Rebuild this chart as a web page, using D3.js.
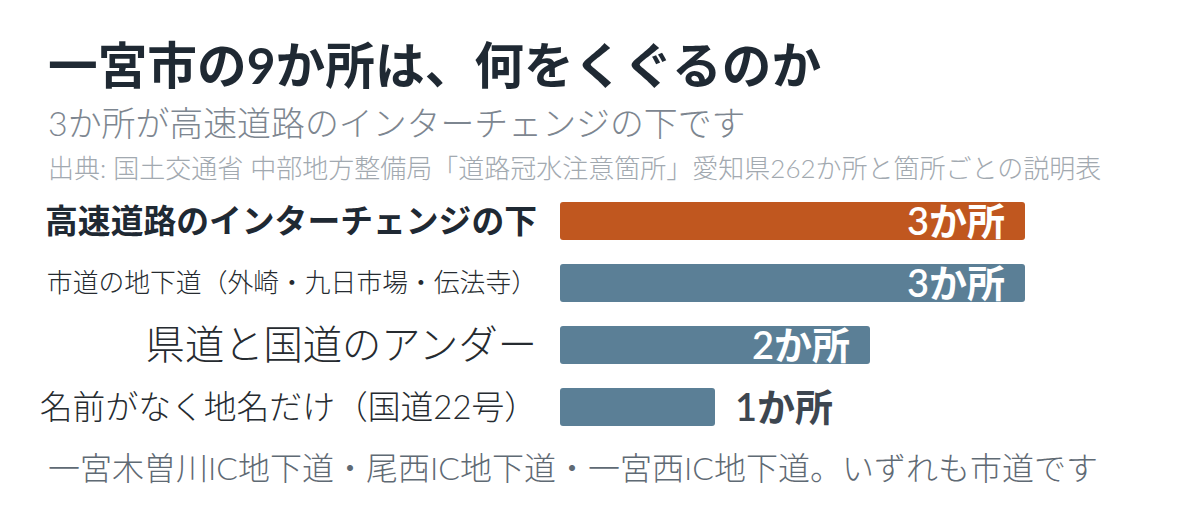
<!DOCTYPE html>
<html>
<head>
<meta charset="utf-8">
<script src="https://cdn.jsdelivr.net/npm/d3@7"></script>
<style>
  html, body { margin: 0; padding: 0; background: #fff; }
  svg { display: block; font-family: Lato, 'Noto Sans CJK JP', sans-serif; }
</style>
</head>
<body>
<div class="chart"></div>
<script>
    // Data
    var categories = [
        '高速道路のインターチェンジの下',
        '市道の地下道（外崎・九日市場・伝法寺）',
        '県道と国道のアンダー',
        '名前がなく地名だけ（国道22号）'
    ];
    var counts = [3, 3, 2, 1];
    var unit = 'か所';
    var titleText = '一宮市の9か所は、何をくぐるのか';
    var subtitleText = '3か所が高速道路のインターチェンジの下です';
    var sourceText = '出典: 国土交通省 中部地方整備局「道路冠水注意箇所」愛知県262か所と箇所ごとの説明表';
    var noteText = '一宮木曽川IC地下道・尾西IC地下道・一宮西IC地下道。いずれも市道です';

    // Layout
    var w = 1200;
    var h = 514;
    var left = 48;
    var barLeft = 560;
    var barRight = 1025;
    var barTop = 202;
    var step = 62;
    var barH = 38;
    var labelRight = 537;
    var labelSizes = [32.8, 25.8, 39.3, 32.8];   // each label sized to its own width
    var labelWeights = [700, 300, 300, 300];
    var orange = '#c0571f';
    var slate = '#5b7f96';

    var svg = d3.select('.chart')
        .append('svg')
            .attr('width', w)
            .attr('height', h);

    var x = d3.scaleLinear()
        .domain([0, d3.max(counts)])
        .range([barLeft, barRight]);

    var y = d3.scaleBand()
        .domain(categories)
        .range([barTop, barTop + step * (categories.length - 1) + barH])
        .paddingInner((step - barH) / step)
        .paddingOuter(0);

    // Titles
    svg.append('text')
        .text(titleText)
        .attr('x', left)
        .attr('y', 84)
        .attr('font-size', 49.7)
        .attr('font-weight', 700)
        .attr('fill', '#1f2933');

    svg.append('text')
        .text(subtitleText)
        .attr('x', left)
        .attr('y', 136)
        .attr('font-size', 33.9)
        .attr('font-weight', 300)
        .attr('fill', '#7d8690');

    svg.append('text')
        .text(sourceText)
        .attr('x', left)
        .attr('y', 178)
        .attr('font-size', 26)
        .attr('font-weight', 300)
        .attr('fill', '#a2a9b0');

    // Bars
    svg.selectAll('rect.bar')
        .data(counts)
        .enter()
        .append('rect')
            .attr('class', 'bar')
            .attr('x', x(0))
            .attr('y', function (d, i) { return y(categories[i]); })
            .attr('width', function (d) { return x(d) - x(0); })
            .attr('height', y.bandwidth())
            .attr('rx', 3)
            .attr('fill', function (d, i) { return i === 0 ? orange : slate; });

    // Category labels
    svg.selectAll('text.cat')
        .data(categories)
        .enter()
        .append('text')
            .attr('class', 'cat')
            .text(function (d) { return d; })
            .attr('x', labelRight)
            .attr('y', function (d) { return y(d) + y.bandwidth() / 2; })
            .attr('dy', '0.36em')
            .attr('text-anchor', 'end')
            .attr('font-size', function (d, i) { return labelSizes[i]; })
            .attr('font-weight', function (d, i) { return labelWeights[i]; })
            .attr('fill', function (d, i) { return i === 0 ? '#1f2933' : '#262b30'; });

    // Value labels: inside the bar when it is long enough
    svg.selectAll('text.val')
        .data(counts)
        .enter()
        .append('text')
            .attr('class', 'val')
            .text(function (d) { return d + unit; })
            .attr('x', function (d) { return d >= 2 ? x(d) - 20 : x(d) + 20; })
            .attr('y', function (d, i) { return y(categories[i]) + y.bandwidth() / 2; })
            .attr('dy', '0.36em')
            .attr('text-anchor', function (d) { return d >= 2 ? 'end' : 'start'; })
            .attr('font-size', 38)
            .attr('font-weight', 600)
            .attr('fill', function (d) { return d >= 2 ? '#ffffff' : '#3d4650'; });

    // Note
    svg.append('text')
        .text(noteText)
        .attr('x', left)
        .attr('y', 480)
        .attr('font-size', 32)
        .attr('font-weight', 300)
        .attr('fill', '#5f6a74');
</script>
</body>
</html>
